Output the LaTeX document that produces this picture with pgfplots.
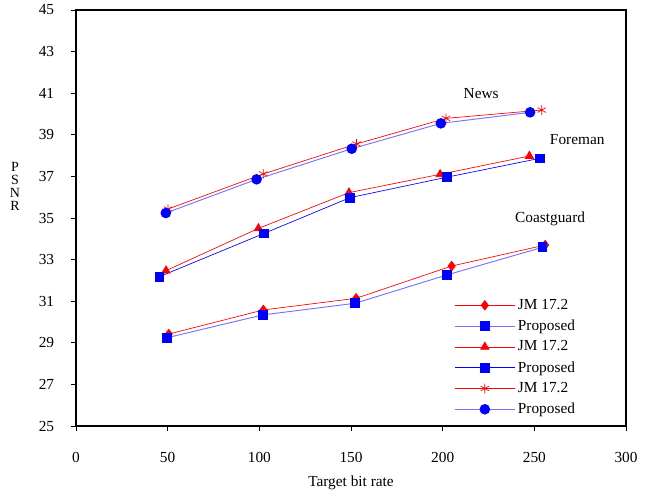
\documentclass[border=0pt]{standalone}
\usepackage{pgfplots}
\pgfplotsset{compat=1.18}
\usepackage{fontspec}
\setmainfont{Liberation Serif}
\usetikzlibrary{calc}
\definecolor{jmred}{HTML}{FF0000}
\definecolor{pblue}{HTML}{0000FF}

\begin{document}
\begin{tikzpicture}
\begin{axis}[
  name=ax,
  scale only axis,
  width=412.5pt,
  height=312pt,
  xmin=0, xmax=300,
  ymin=25, ymax=45,
  xtick={0,50,...,300},
  ytick={25,27,...,45},
  tick align=outside,
  major tick length=3.4pt,
  xtick pos=bottom,
  ytick pos=left,
  axis line style={black, line width=0.8pt},
  tick style={black, line width=0.6pt},
  /pgf/number format/assume math mode=true,
  tick label style={font=\fontsize{11.5}{13}\selectfont},
  xticklabel style={anchor=center, yshift=-20.5pt},
  yticklabel style={xshift=-9.5pt},
  xlabel={Target bit rate},
  xlabel style={font=\fontsize{11.5}{13}\selectfont, at={(rel axis cs:0.5,0)},
    anchor=center, yshift=-42.75pt},
  ylabel={P\\S\\N\\R},
  ylabel style={rotate=-90, align=center, font=\fontsize{10.5}{9.9}\selectfont,
    at={(rel axis cs:0,0.576)}, anchor=center, xshift=-45.75pt},
  clip=false,
  legend cell align=left,
  legend style={at={(rel axis cs:0.685,0.315)}, anchor=north west,
    draw=none, fill=none, font=\fontsize{11.5}{13}\selectfont,
    row sep=2.3pt, inner sep=1pt},
  legend image code/.code={
    \draw[mark repeat=2,mark phase=2,#1] plot coordinates {(0pt,0pt) (22.5pt,0pt) (45pt,0pt)};
  },
]
% Coastguard
\addplot[jmred, line width=0.5pt, mark=diamond*, mark size=3.6pt, mark options={fill=jmred, solid}]
  coordinates {(50.6,29.42) (102.2,30.58) (152.8,31.14) (204.9,32.69) (255.9,33.70)};
\addlegendentry{JM 17.2}
\addplot[blue!55, line width=0.7pt, mark=square*, mark size=3.3pt, mark options={fill=pblue, draw=pblue}]
  coordinates {(49.5,29.24) (101.8,30.34) (152.2,30.90) (202.2,32.26) (254.4,33.59)};
\addlegendentry{Proposed}
% Foreman
\addplot[jmred, line width=0.5pt, mark=triangle*, mark size=3.6pt, mark options={fill=jmred}]
  coordinates {(49.1,32.47) (99.5,34.50) (148.9,36.22) (198.6,37.10) (247.3,37.98)};
\addlegendentry{JM 17.2}
\addplot[pblue, line width=0.5pt, mark=square*, mark size=3.3pt, mark options={fill=pblue}]
  coordinates {(45.5,32.18) (102.6,34.26) (149.5,35.98) (202.2,36.96) (253.1,37.87)};
\addlegendentry{Proposed}
% News
\addplot[jmred, line width=0.5pt, mark=asterisk, mark size=3.6pt, mark options={jmred, line width=0.5pt}]
  coordinates {(50.2,35.43) (102.2,37.12) (153.0,38.56) (201.8,39.79) (254.0,40.19)};
\addlegendentry{JM 17.2}
\addplot[blue!55, line width=0.7pt, mark=*, mark size=3.6pt, mark options={fill=pblue, draw=pblue}]
  coordinates {(49.0,35.24) (98.5,36.86) (150.4,38.33) (199.0,39.55) (247.7,40.08)};
\addlegendentry{Proposed}

\node[font=\fontsize{11.5}{13}\selectfont] at (axis cs:221,41.0) {News};
\node[font=\fontsize{11.5}{13}\selectfont] at (axis cs:273.4,38.75) {Foreman};
\node[font=\fontsize{11.5}{13}\selectfont] at (axis cs:258.6,34.96) {Coastguard};
\end{axis}
\pgfresetboundingbox
\path[use as bounding box] ($(ax.south west)+(-57pt,-53.25pt)$) rectangle ($(ax.north east)+(21pt,7.5pt)$);
\end{tikzpicture}
\end{document}
